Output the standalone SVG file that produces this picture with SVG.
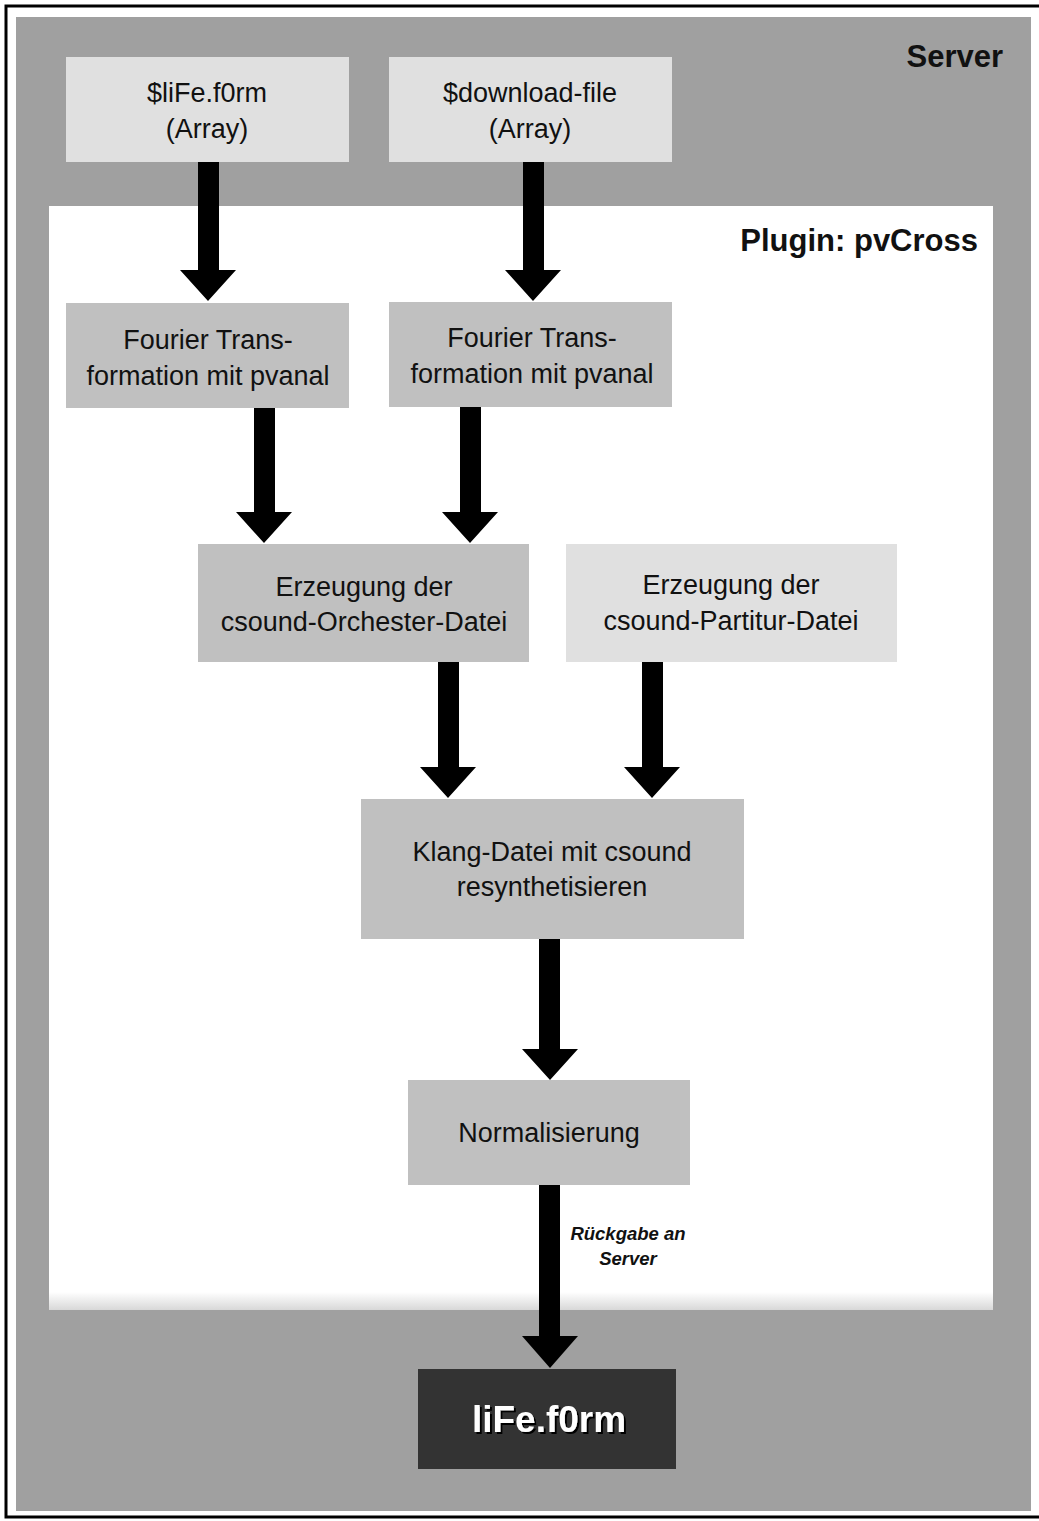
<svg xmlns="http://www.w3.org/2000/svg" width="1039" height="1521" viewBox="0 0 1039 1521">
<defs>
<linearGradient id="shade" x1="0" y1="0" x2="0" y2="1">
<stop offset="0" stop-color="#ffffff"/>
<stop offset="1" stop-color="#d8d8d8"/>
</linearGradient>
<filter id="ts" x="-10%" y="-20%" width="130%" height="150%">
<feDropShadow dx="2" dy="2" stdDeviation="0.6" flood-color="#000" flood-opacity="1"/>
</filter>
</defs>
<style>
text{font-family:"Liberation Sans",Arial,sans-serif;fill:#111;text-anchor:middle}
.n{font-size:27px}
.light{fill:#e0e0e0}
.mid{fill:#c0c0c0}
.arr{fill:#000}
.title{font-size:31px;font-weight:bold;text-anchor:end}
.lab{font-size:18.5px;font-weight:bold;font-style:italic}
</style>
<rect x="0" y="0" width="1039" height="1521" fill="#fff"/>
<path d="M1039,6 H6 V1517 H1039" fill="none" stroke="#000" stroke-width="3"/>
<rect x="16" y="17" width="1015" height="1494" fill="#a0a0a0"/>
<rect x="49" y="206" width="944" height="1104" fill="#fff"/>
<rect x="49" y="1292" width="944" height="18" fill="url(#shade)"/>
<text class="title" x="1003" y="67">Server</text>
<text class="title" x="978" y="251">Plugin: pvCross</text>

<g id="connectors">
<path class="arr" d="M198,162H219V270H236L208,301L180,270H198Z"/>
<path class="arr" d="M523,162H544V270H561L533,301L505,270H523Z"/>
<path class="arr" d="M254,408H275V512H292L264,543L236,512H254Z"/>
<path class="arr" d="M460,407H481V512H498L470,543L442,512H460Z"/>
<path class="arr" d="M438,662H459V767H476L448,798L420,767H438Z"/>
<path class="arr" d="M642,662H663V767H680L652,798L624,767H642Z"/>
<path class="arr" d="M539,939H560V1049H578L550,1080L522,1049H539Z"/>
<path class="arr" d="M539,1185H560V1336H578L550,1368L522,1336H539Z"/>
<text class="lab" x="628" y="1240">Rückgabe an</text>
<text class="lab" x="628" y="1265">Server</text>
</g>

<g id="n1"><rect class="light" x="66" y="57" width="283" height="105"/>
<text class="n" x="207" y="102">$liFe.f0rm</text><text class="n" x="207" y="138">(Array)</text></g>
<g id="n2"><rect class="light" x="389" y="57" width="283" height="105"/>
<text class="n" x="530" y="102">$download-file</text><text class="n" x="530" y="138">(Array)</text></g>
<g id="n3"><rect class="mid" x="66" y="303" width="283" height="105"/>
<text class="n" x="208" y="349">Fourier Trans-</text><text class="n" x="208" y="385">formation mit pvanal</text></g>
<g id="n4"><rect class="mid" x="389" y="302" width="283" height="105"/>
<text class="n" x="532" y="347">Fourier Trans-</text><text class="n" x="532" y="383">formation mit pvanal</text></g>
<g id="n5"><rect class="mid" x="198" y="544" width="331" height="118"/>
<text class="n" x="364" y="596">Erzeugung der</text><text class="n" x="364" y="631">csound-Orchester-Datei</text></g>
<g id="n6"><rect class="light" x="566" y="544" width="331" height="118"/>
<text class="n" x="731" y="594">Erzeugung der</text><text class="n" x="731" y="630">csound-Partitur-Datei</text></g>
<g id="n7"><rect class="mid" x="361" y="799" width="383" height="140"/>
<text class="n" x="552" y="861">Klang-Datei mit csound</text><text class="n" x="552" y="896">resynthetisieren</text></g>
<g id="n8"><rect class="mid" x="408" y="1080" width="282" height="105"/>
<text class="n" x="549" y="1142">Normalisierung</text></g>
<g id="n9"><rect x="418" y="1369" width="258" height="100" fill="#333"/>
<text x="549" y="1432" style="font-size:37px;font-weight:bold;fill:#fff" filter="url(#ts)">liFe.f0rm</text></g>
</svg>
